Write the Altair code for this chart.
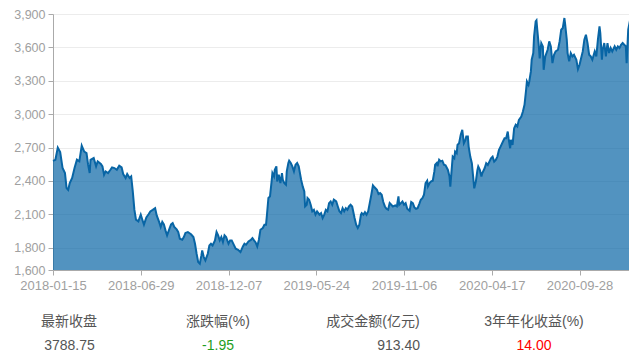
import json
import altair as alt
import pandas as pd

# trading-day index (0 = 2018-01-15) and closing level
day_index = [
    0, 3, 6, 9, 12, 15, 17, 19, 21, 24, 27, 30, 33, 36, 39, 42, 44, 46, 47, 51,
    54, 56, 60, 62, 64, 66, 69, 72, 74, 77, 80, 83, 86, 88, 91, 93, 96, 98, 100, 102,
    104, 107, 110, 112, 114, 117, 120,
    122, 125, 128, 130, 133, 135, 137, 139, 141, 143, 146, 148, 150, 152, 155, 157, 159, 162, 164, 166,
    169, 173, 176, 178, 180, 182, 184, 186, 187, 189, 191, 194, 196, 198, 200, 203, 205, 207, 209, 211,
    213, 215, 217, 220, 222, 224, 227, 229, 232, 235, 238, 240,
    242, 245, 248, 250, 252, 254, 256, 258, 260, 263, 265, 267, 268, 270, 272, 274, 275, 277, 278, 280,
    281, 283, 285, 287, 288, 290, 292, 293, 295, 296, 298, 300, 302, 304, 306, 308, 311, 313, 315, 316,
    318, 319, 321, 323, 325, 327, 329, 331, 334, 336, 338, 340, 342, 344, 346, 348, 350, 352, 355, 357,
    359, 361, 363, 365, 367,
    369, 371, 373, 375, 378, 380, 382, 384, 386, 387, 389, 391, 393, 395, 397, 399, 401, 403, 406, 408,
    410, 412, 414, 416, 418, 420, 422, 424, 426, 429, 431, 433, 434, 436, 438, 440, 442, 444, 447, 449,
    451, 453, 455, 457, 459, 461, 463, 465, 467, 469, 470, 472, 474, 476, 478, 479, 481, 482, 484, 486,
    488, 490,
    492, 495, 497, 498, 500, 501, 503, 504, 506, 507, 509, 511, 513, 514, 515, 517, 518, 520, 521, 523,
    525, 527, 528, 530, 532, 533, 535, 537, 538, 541, 543, 545, 547, 549, 551, 553, 555, 557, 559, 561,
    564, 566, 568, 570, 571, 573, 574, 576, 578, 580, 582, 584, 587, 589, 591, 593, 594, 596, 597, 599,
    600, 602, 603, 605, 606, 607, 609, 610, 612, 614, 615, 617,
    620, 622, 624, 626, 628, 630, 633, 635, 637, 639, 641, 642, 644, 645, 647, 649, 651, 653, 656, 658,
    660, 662, 664, 666, 668, 670, 672, 674, 676, 679, 681, 683, 685, 686, 688, 689, 691, 693, 695, 697,
    699, 701, 704, 706, 708, 710, 712, 714, 716, 718, 719, 721, 723, 725, 727, 729, 731, 732,
]
close = [
    2580, 2590, 2700, 2660, 2516, 2471, 2337, 2320, 2382, 2427, 2516, 2591, 2576, 2717, 2665, 2650, 2546, 2471, 2590, 2606,
    2531, 2576, 2552, 2531, 2456, 2486, 2471, 2501, 2522, 2516, 2501, 2537, 2522, 2462, 2427, 2462, 2427, 2441, 2306, 2142,
    2052, 2037, 2097, 2052, 2008, 2073, 2103,
    2126, 2140, 2155, 2090, 2032, 1987, 2032, 2010, 1956, 1911, 1971, 2010, 2022, 1987, 1965, 1941, 1881, 1872, 1896, 1933,
    1941, 1921, 1896, 1836, 1746, 1671, 1656, 1731, 1776, 1716, 1686, 1746, 1821, 1836, 1821, 1866, 1941, 1911, 1866, 1896,
    1851, 1911, 1896, 1836, 1866, 1866, 1821, 1791, 1782, 1761, 1812, 1836,
    1827, 1857, 1870, 1887, 1866, 1848, 1812, 1870, 1962, 1977, 2007, 2007, 2082, 2247, 2262, 2396, 2471, 2441, 2501, 2531,
    2396, 2456, 2381, 2471, 2411, 2381, 2366, 2486, 2561, 2582, 2561, 2531, 2486, 2546, 2561, 2531, 2411, 2351, 2306, 2171,
    2186, 2247, 2232, 2186, 2127, 2141, 2097, 2127, 2097, 2111, 2067, 2097, 2141, 2127, 2201, 2216, 2186, 2232, 2216, 2171,
    2127, 2111, 2156, 2127, 2156,
    2141, 2171, 2186, 2171, 2067, 2007, 1977, 2007, 2097, 2111, 2097, 2120, 2097, 2126, 2201, 2276, 2361, 2343, 2321, 2282,
    2291, 2276, 2211, 2171, 2150, 2141, 2201, 2186, 2171, 2180, 2171, 2261, 2186, 2201, 2216, 2186, 2201, 2150, 2132, 2211,
    2201, 2162, 2150, 2156, 2192, 2231, 2246, 2276, 2381, 2402, 2351, 2381, 2396, 2402, 2486, 2546, 2561, 2531, 2591, 2576,
    2582, 2546,
    2540, 2499, 2439, 2349, 2529, 2619, 2604, 2664, 2649, 2724, 2739, 2814, 2859, 2799, 2739, 2769, 2799, 2799, 2709, 2619,
    2559, 2409, 2334, 2394, 2499, 2529, 2499, 2439, 2469, 2514, 2559, 2544, 2574, 2604, 2619, 2574, 2589, 2619, 2679, 2709,
    2754, 2784, 2784, 2844, 2784, 2694, 2769, 2724, 2874, 2904, 2889, 2949, 2979, 3024, 3084, 3219, 3294, 3264, 3294, 3384,
    3489, 3549, 3699, 3834, 3843, 3759, 3609, 3500, 3639, 3609, 3399, 3519,
    3579, 3654, 3609, 3459, 3534, 3564, 3579, 3654, 3759, 3774, 3864, 3804, 3669, 3549, 3474, 3549, 3519, 3534, 3489, 3405,
    3444, 3504, 3564, 3669, 3714, 3639, 3534, 3519, 3489, 3564, 3519, 3669, 3789, 3729, 3489, 3579, 3639, 3519, 3639, 3549,
    3594, 3564, 3609, 3579, 3609, 3594, 3624, 3639, 3624, 3609, 3459, 3759, 3834, 3819, 3849, 3834, 3864, 3789,
]

tick_days = [0, 110, 220, 330, 440, 550, 660]
tick_labels = ["2018-01-15", "2018-06-29", "2018-12-07", "2019-05-24",
               "2019-11-06", "2020-04-17", "2020-09-28"]
y_ticks = [1600, 1800, 2100, 2400, 2700, 3000, 3300, 3600, 3900]
y_min, y_max = 1600, 3900

stat_names = ["最新收盘", "涨跌幅(%)", "成交金额(亿元)", "3年年化收益(%)"]
stat_values = ["3788.75", "-1.95", "913.40", "14.00"]
stat_colors = ["#555555", "#1f9e1f", "#555555", "#ff0000"]

df = pd.DataFrame({"day": day_index, "close": close})

LINE = "#0865a5"
FONT = "Liberation Sans, Arial, 'Noto Sans CJK SC', sans-serif"

label_expr = f"{json.dumps(tick_labels)}[indexof({json.dumps(tick_days)}, datum.value)]"

x_enc = alt.X(
    "day:Q",
    scale=alt.Scale(domain=[0, 732], nice=False, zero=False),
    axis=alt.Axis(
        values=tick_days, labelExpr=label_expr, title=None, grid=False,
        labelFlush=False, labelOverlap=False, domainColor="#aaaaaa",
        tickColor="#aaaaaa", tickSize=5, labelPadding=4, labelFontSize=13,
        labelColor="#a0a0a0", labelFont=FONT,
    ),
)
y_enc = alt.Y(
    "close:Q",
    scale=alt.Scale(domain=[y_min, y_max], nice=False, zero=False),
    axis=alt.Axis(
        values=y_ticks, labelExpr="format(datum.value, ',.0f')", title=None,
        grid=True, gridColor="#ececec", labelOverlap=False, labelFlush=False,
        domainColor="#aaaaaa", tickColor="#aaaaaa", tickSize=5, labelPadding=3,
        labelFontSize=12.5, labelColor="#a0a0a0", labelFont=FONT,
    ),
)

base = alt.Chart(df)
area = base.mark_area(color=LINE, opacity=0.7).encode(x=x_enc, y=y_enc, y2=alt.datum(y_min))
line = base.mark_line(color=LINE, strokeWidth=2).encode(x=x_enc, y=y_enc)

layers = [area, line]
name_x = [16, 165, 320, 481]
val_x = [16.5, 165, 367, 481]
val_align = ["center", "center", "right", "center"]
for i in range(4):
    layers.append(
        alt.Chart(pd.DataFrame({"t": [stat_names[i]]}))
        .mark_text(align="center", baseline="middle", fontSize=14, font=FONT, color="#555555")
        .encode(x=alt.value(name_x[i]), y=alt.value(308), text="t:N")
    )
    layers.append(
        alt.Chart(pd.DataFrame({"t": [stat_values[i]]}))
        .mark_text(align=val_align[i], baseline="middle", fontSize=14, font=FONT, color=stat_colors[i])
        .encode(x=alt.value(val_x[i]), y=alt.value(331.5), text="t:N")
    )

chart = (
    alt.layer(*layers)
    .properties(
        width=584, height=256,
        autosize=alt.AutoSizeParams(type="none"),
        padding={"left": 45, "top": 6, "right": -8, "bottom": 81},
    )
    .configure_view(stroke=None)
)

chart.save("out.html", embed_options={"renderer": "svg", "actions": False})
